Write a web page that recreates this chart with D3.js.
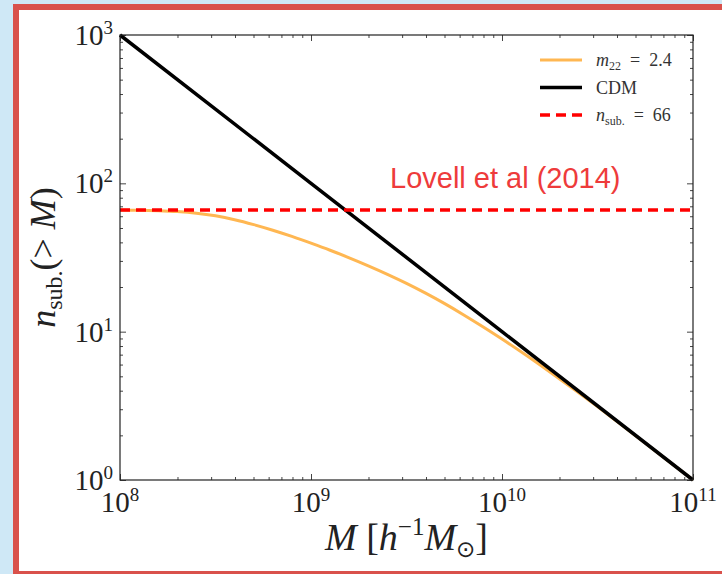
<!DOCTYPE html>
<html>
<head>
<meta charset="utf-8">
<script src="https://cdn.jsdelivr.net/npm/d3@7"></script>
<style>
  body { margin: 0; background: #cfe8f6; }
  svg { display: block; }
</style>
</head>
<body>
<div id="chart"></div>
<script>
// subhalo counts
const wdmMass = [1e8, 1.259e8, 1.585e8, 1.995e8, 2.512e8, 3.162e8, 3.981e8, 5.012e8, 6.31e8, 7.943e8,
  1e9, 1.259e9, 1.585e9, 1.995e9, 2.512e9, 3.162e9, 3.981e9, 5.012e9, 6.31e9, 7.943e9,
  1e10, 1.259e10, 1.585e10, 1.995e10, 2.512e10, 3.162e10, 3.981e10, 5.012e10, 6.31e10, 7.943e10, 1e11];
const wdmN = [66, 65.9, 65.45, 64.55, 62.93, 60.38, 56.87, 52.7, 48.3, 43.85,
  39.5, 35.4, 31.47, 27.8, 24.37, 21.18, 18.19, 15.45, 12.97, 10.79,
  8.91, 7.31, 5.955, 4.82, 3.89, 3.126, 2.495, 1.986, 1.581, 1.257, 1.0];
const cdmMass = [1e8, 1e9, 1e10, 1e11];
const cdmN = [1000, 100, 10, 1];
const lovellN = 66;
const xMajor = [8, 9, 10, 11];   // exponents
const yMajor = [0, 1, 2, 3];

const W = 722, H = 574;
const margin = {top: 35, right: 29, bottom: 94, left: 120};
const chtW = W - margin.left - margin.right;
const chtH = H - margin.top - margin.bottom;

const svg = d3.select('#chart').append('svg').attr('width', W).attr('height', H);

// slide background + red frame
svg.append('rect').attr('width', W).attr('height', H).attr('fill', '#cfe8f6');
svg.append('rect')
    .attr('x', 16).attr('y', 7).attr('width', 800).attr('height', 567)
    .attr('fill', '#ffffff')
    .attr('stroke', '#d9514b')
    .attr('stroke-width', 6);

const g = svg.append('g').attr('transform', 'translate(' + margin.left + ',' + margin.top + ')');

const x = d3.scaleLog().domain([1e8, 1e11]).range([0, chtW]);
const y = d3.scaleLog().domain([1, 1000]).range([chtH, 0]);

const minorVals = (lo, hi) => {
  const out = [];
  for (let e = lo; e < hi; e++) for (let k = 2; k <= 9; k++) out.push(k * Math.pow(10, e));
  return out;
};
const xMinor = minorVals(8, 11);
const yMinor = minorVals(0, 3);

function tickAxis(axisFn, scale, vals, size, transform) {
  const a = g.append('g')
      .attr('transform', transform)
      .call(axisFn(scale).tickValues(vals).tickSize(size).tickFormat(''));
  a.select('.domain').remove();
  a.selectAll('line').attr('stroke', '#444').attr('stroke-width', 1);
}
const majX = xMajor.map(e => Math.pow(10, e));
const majY = yMajor.map(e => Math.pow(10, e));
// ticks point inward on all four sides
tickAxis(d3.axisBottom, x, majX, -6, 'translate(0,' + chtH + ')');
tickAxis(d3.axisBottom, x, xMinor, -3, 'translate(0,' + chtH + ')');
tickAxis(d3.axisTop, x, majX, -6, 'translate(0,0)');
tickAxis(d3.axisTop, x, xMinor, -3, 'translate(0,0)');
tickAxis(d3.axisLeft, y, majY, -6, 'translate(0,0)');
tickAxis(d3.axisLeft, y, yMinor, -3, 'translate(0,0)');
tickAxis(d3.axisRight, y, majY, -6, 'translate(' + chtW + ',0)');
tickAxis(d3.axisRight, y, yMinor, -3, 'translate(' + chtW + ',0)');

// curves
const line = d3.line()
    .x(d => x(d[0]))
    .y(d => y(d[1]))
    .curve(d3.curveMonotoneX);

g.append('path')
    .datum(d3.zip(wdmMass, wdmN))
    .attr('fill', 'none')
    .attr('stroke', '#ffb752')
    .attr('stroke-width', 3)
    .attr('stroke-linejoin', 'round')
    .attr('d', line);

g.append('path')
    .datum(d3.zip(cdmMass, cdmN))
    .attr('fill', 'none')
    .attr('stroke', '#000000')
    .attr('stroke-width', 3.5)
    .attr('d', d3.line().x(d => x(d[0])).y(d => y(d[1])));

g.append('line')
    .attr('x1', x(1e8)).attr('x2', x(1e11))
    .attr('y1', y(lovellN)).attr('y2', y(lovellN))
    .attr('stroke', '#ff0000')
    .attr('stroke-width', 3.5)
    .attr('stroke-dasharray', '10,6');

// spines
g.append('rect')
    .attr('width', chtW).attr('height', chtH)
    .attr('fill', 'none')
    .attr('stroke', '#222')
    .attr('stroke-width', 1.2);

const serif = '"Liberation Serif", "DejaVu Serif", serif';

// tick labels 10^n
function powLabel(t, e) {
  t.append('tspan').text('10');
  t.append('tspan').attr('dy', -11).attr('font-size', 19).text(e);
}
xMajor.forEach(e => {
  const t = g.append('text')
      .attr('x', x(Math.pow(10, e))).attr('y', chtH + 32)
      .attr('text-anchor', 'middle')
      .attr('font-family', serif).attr('font-size', 29).attr('fill', '#222');
  powLabel(t, e);
});
yMajor.forEach(e => {
  const t = g.append('text')
      .attr('x', -7).attr('y', y(Math.pow(10, e)) + 10)
      .attr('text-anchor', 'end')
      .attr('font-family', serif).attr('font-size', 29).attr('fill', '#222');
  powLabel(t, e);
});

// axis titles
const xt = g.append('text')
    .attr('x', chtW / 2).attr('y', chtH + 70)
    .attr('text-anchor', 'middle')
    .attr('font-family', serif).attr('font-size', 38).attr('fill', '#222');
xt.append('tspan').attr('font-style', 'italic').text('M');
xt.append('tspan').text(' [');
xt.append('tspan').attr('font-style', 'italic').text('h');
xt.append('tspan').attr('font-size', 25).attr('dy', -15).text('−1');
xt.append('tspan').attr('font-style', 'italic').attr('dy', 15).text('M');
xt.append('tspan').attr('font-size', 23).attr('dy', 7).attr('font-family', '"DejaVu Sans", sans-serif').text('⊙');
xt.append('tspan').attr('dy', -7).text(']');

const yt = svg.append('text')
    .attr('transform', 'translate(55,' + (margin.top + chtH / 2) + ') rotate(-90)')
    .attr('text-anchor', 'middle')
    .attr('font-family', serif).attr('font-size', 36).attr('fill', '#222');
yt.append('tspan').attr('font-style', 'italic').text('n');
yt.append('tspan').attr('font-size', 24).attr('dy', 7).text('sub.');
yt.append('tspan').attr('dy', -7).text('(> ');
yt.append('tspan').attr('font-style', 'italic').text('M');
yt.append('tspan').text(')');

// annotation
g.append('text')
    .attr('x', 270).attr('y', 153)
    .attr('font-family', '"Liberation Sans", Arial, sans-serif')
    .attr('font-size', 29)
    .attr('fill', '#ee3b3b')
    .text('Lovell et al (2014)');

// legend
const legend = [
  {color: '#ffb752', width: 3, dash: null, main: 'm', sub: '22', rest: '\u2002=\u20022.4'},
  {color: '#000000', width: 3.5, dash: null, main: null, sub: null, rest: 'CDM'},
  {color: '#ff0000', width: 3.5, dash: '10,6', main: 'n', sub: 'sub.', rest: '\u2002=\u200266'}
];
legend.forEach((d, i) => {
  const ly = 25 + i * 27.5;
  g.append('line')
      .attr('x1', 420).attr('x2', 462)
      .attr('y1', ly).attr('y2', ly)
      .attr('stroke', d.color).attr('stroke-width', d.width)
      .attr('stroke-dasharray', d.dash);
  const t = g.append('text')
      .attr('x', 476).attr('y', ly + 6)
      .attr('font-family', serif).attr('font-size', 18).attr('fill', '#333');
  if (d.main) {
    t.append('tspan').attr('font-style', 'italic').text(d.main);
    t.append('tspan').attr('font-size', 12).attr('dy', 4).text(d.sub);
    t.append('tspan').attr('dy', -4).text(d.rest);
  } else {
    t.text(d.rest);
  }
});
</script>
</body>
</html>
